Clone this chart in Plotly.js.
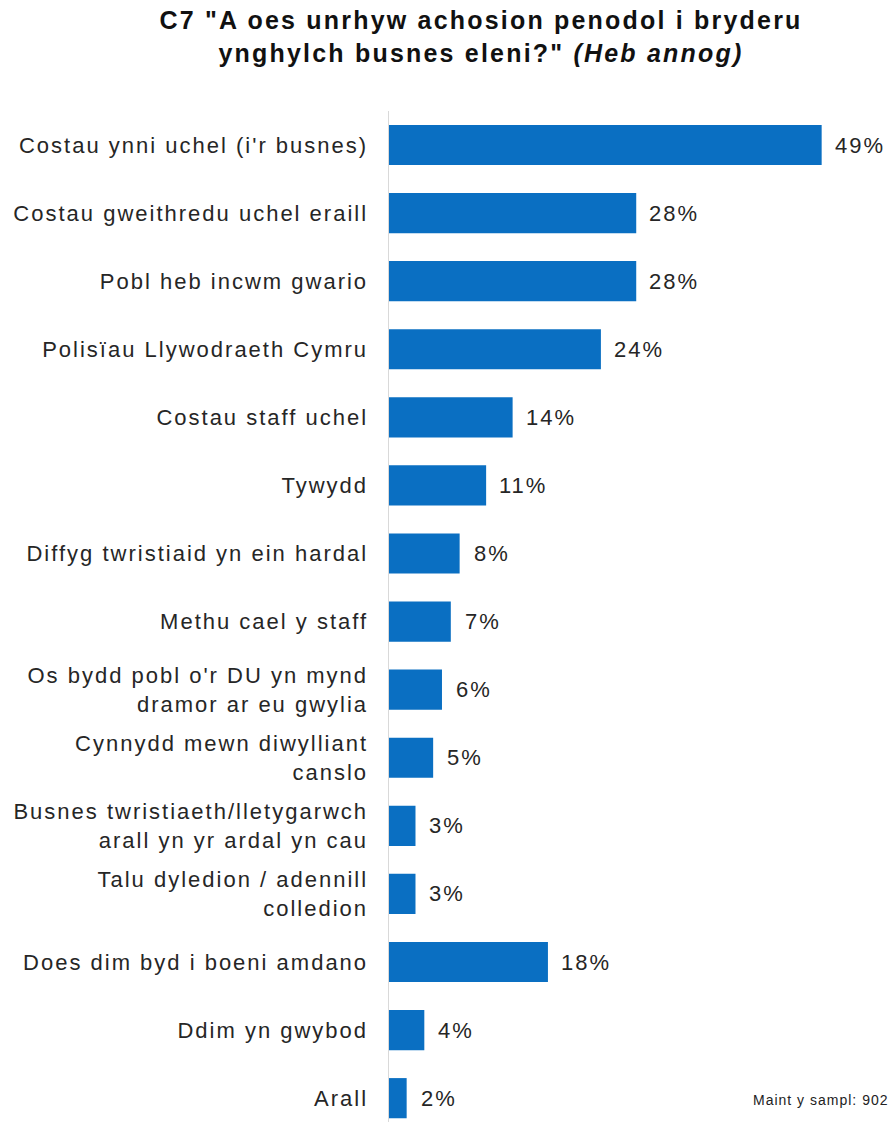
<!DOCTYPE html>
<html>
<head>
<meta charset="utf-8">
<script src="https://cdn.plot.ly/plotly-3.0.1.min.js"></script>
<style>
html,body{margin:0;padding:0;background:#fff;}
#chart .ytick text { letter-spacing: 2px; }
#chart .annotation-text { letter-spacing: 2px; }
#chart .annotation[data-index="15"] .annotation-text { letter-spacing: 1px; }
#chart .gtitle { letter-spacing: 2.2px; }
</style>
</head>
<body>
<div id="chart" style="width:893px;height:1122px;"></div>
<script>
const categories = [
  "Costau ynni uchel (i'r busnes)",
  "Costau gweithredu uchel eraill",
  "Pobl heb incwm gwario",
  "Polisïau Llywodraeth Cymru",
  "Costau staff uchel",
  "Tywydd",
  "Diffyg twristiaid yn ein hardal",
  "Methu cael y staff",
  "Os bydd pobl o'r DU yn mynd<br>dramor ar eu gwylia",
  "Cynnydd mewn diwylliant<br>canslo",
  "Busnes twristiaeth/lletygarwch<br>arall yn yr ardal yn cau",
  "Talu dyledion / adennill<br>colledion",
  "Does dim byd i boeni amdano",
  "Ddim yn gwybod",
  "Arall"
];
const values = [49, 28, 28, 24, 14, 11, 8, 7, 6, 5, 3, 3, 18, 4, 2];
const valueLabels = values.map(v => v + "%");
const titleText = 'C7 "A oes unrhyw achosion penodol i bryderu<br>ynghylch busnes eleni?" <i>(Heb annog)</i>';
const sampleNote = "Maint y sampl: 902";

const font = "Arial, 'Liberation Sans', sans-serif";
const H = 1122, T = 111;
const py = p => (H - p) / (H - T);   // pixel row -> paper y

const trace = {
  type: 'bar',
  orientation: 'h',
  y: categories,
  x: values,
  marker: {color: '#0a6fc2'},
  width: 0.59,
  hoverinfo: 'none'
};

const annotations = values.map((v, i) => ({
  x: v, y: categories[i], xref: 'x', yref: 'y',
  text: valueLabels[i], showarrow: false,
  xanchor: 'left', yanchor: 'middle', xshift: 14,
  font: {family: font, size: 22, color: '#262626'}
}));
annotations.push({
  x: 884 / 893, y: py(1100), xref: 'paper', yref: 'paper',
  text: sampleNote, showarrow: false, xanchor: 'right', yanchor: 'middle',
  font: {family: font, size: 14, color: '#222'}
});

const layout = {
  width: 893, height: 1122,
  margin: {l: 389, r: 6, t: T, b: 0},
  paper_bgcolor: '#fff', plot_bgcolor: '#fff',
  showlegend: false,
  title: {
    text: titleText,
    font: {family: font, size: 25, color: '#111', weight: 'bold'},
    x: 481 / 893, xanchor: 'center', y: 1 - 29 / 1122, yanchor: 'top'
  },
  xaxis: {
    range: [0, 56.4], showgrid: false, zeroline: false,
    showticklabels: false, showline: false, ticks: ''
  },
  yaxis: {
    type: 'category',
    range: [14.35, -0.5],
    showgrid: false, zeroline: false,
    showline: true, linecolor: '#d9d9d9', linewidth: 1.5,
    ticks: '', ticklabelstandoff: 15,
    tickfont: {family: font, size: 22, color: '#262626'}
  },
  annotations: annotations
};

Plotly.newPlot('chart', [trace], layout, {displayModeBar: false, staticPlot: true});
</script>
</body>
</html>
